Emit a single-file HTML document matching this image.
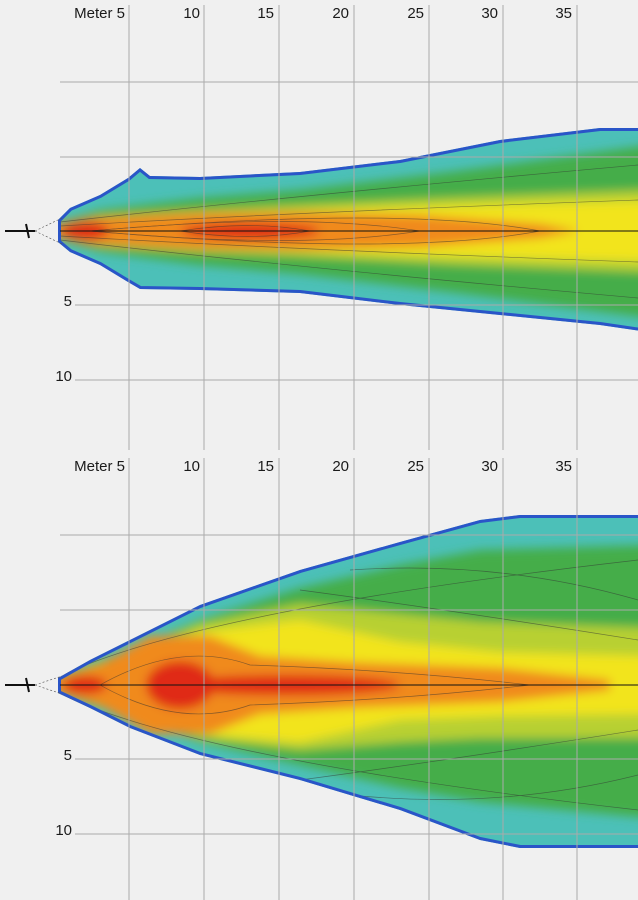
<!DOCTYPE html>
<html><head><meta charset="utf-8"><style>
html,body{margin:0;padding:0;background:#f0f0f0;}
svg{display:block;}
text{font-family:"Liberation Sans",sans-serif;font-size:15px;fill:#1a1a1a;}
</style></head><body>
<svg width="638" height="900" viewBox="0 0 638 900">
<defs>
<filter id="b" x="-20%" y="-20%" width="140%" height="140%"><feGaussianBlur stdDeviation="5"/></filter>
<polygon id="p1" points="58,220 70,208 100,195 128,178 140,168 150,176 200,177 300,172 400,160 500,140 600,128 648,128 648,332 600,325 500,315 400,305 300,293 200,290 140,289 128,282 100,265 70,252 58,242"/>
<polygon id="p2" points="58,678 90,660 130,640 200,605 300,570 400,542 480,520 520,515 648,515 648,848 520,848 480,840 400,810 300,780 200,755 130,728 90,708 58,693"/>
<clipPath id="c1"><use href="#p1"/></clipPath>
<clipPath id="c2"><use href="#p2"/></clipPath>
</defs>
<rect width="638" height="900" fill="#f0f0f0"/>

<!-- top heatmap -->
<g clip-path="url(#c1)">
<rect x="40" y="120" width="610" height="220" fill="#4cc0b8"/>
<g filter="url(#b)">
<polygon points="30,231 100,210 200,198 300,190 450,172 650,145 650,318 450,292 300,274 200,265 100,252" fill="#44ad48"/>
<polygon points="30,231 100,216 200,210 300,205 450,198 650,190 650,272 450,264 300,256 200,252 100,246" fill="#b8d030"/>
<polygon points="30,231 100,220 200,214 300,211 450,206 650,201 650,261 450,256 300,251 200,248 100,242" fill="#f2e41e"/>
<polygon points="30,231 90,218 200,213 300,212 420,215 540,224 580,231 540,238 420,247 300,250 200,249 90,244" fill="#f08a1c"/>
<ellipse cx="85" cy="231" rx="24" ry="9" fill="#e02a14"/>
<ellipse cx="250" cy="231" rx="70" ry="8" fill="#e02a14"/>
</g>
<g fill="none" stroke="#333" stroke-width="0.7" opacity="0.55">
<path d="M60,222 Q300,195 638,165"/><path d="M60,240 Q300,268 638,298"/>
<path d="M60,226 Q300,212 638,200"/><path d="M60,236 Q300,250 638,262"/>
<path d="M180,231 Q250,220 310,231 Q250,242 180,231"/>
<path d="M90,231 Q300,212 420,231 Q300,250 90,231"/>
<path d="M90,231 Q400,205 540,231 Q400,257 90,231"/>
</g>
<use href="#p1" fill="none" stroke="#2a55c8" stroke-width="6"/>
</g>

<!-- bottom heatmap -->
<g clip-path="url(#c2)">
<rect x="40" y="500" width="610" height="360" fill="#4cc0b8"/>
<g filter="url(#b)">
<polygon points="30,685 130,650 200,620 300,588 400,565 480,550 650,545 650,818 480,802 400,788 300,765 200,742 130,718" fill="#44ad48"/>
<polygon points="30,685 130,652 200,624 300,604 400,614 480,622 650,628 650,738 480,738 400,742 300,750 200,738 130,716" fill="#b8d030"/>
<polygon points="30,685 130,656 200,632 300,620 400,642 500,652 650,656 650,714 500,716 400,720 300,742 200,734 130,712" fill="#f2e41e"/>
<polygon points="30,685 100,664 150,636 210,636 260,656 350,662 500,668 610,680 610,690 500,702 350,708 260,714 210,734 150,734 100,706" fill="#f08a1c"/>
<ellipse cx="180" cy="685" rx="34" ry="24" fill="#e02a14"/>
<ellipse cx="85" cy="685" rx="22" ry="9" fill="#e02a14"/>
<ellipse cx="285" cy="685" rx="115" ry="10" fill="#e02a14"/>
</g>
<g fill="none" stroke="#333" stroke-width="0.7" opacity="0.55">
<path d="M60,676 Q200,610 638,560"/><path d="M60,694 Q200,760 638,810"/>
<path d="M300,590 Q450,610 638,640"/><path d="M300,780 Q450,760 638,730"/>
<path d="M100,685 Q180,640 250,665 Q400,670 530,685 Q400,700 250,705 Q180,730 100,685"/>
<path d="M350,570 Q500,560 638,600"/><path d="M350,795 Q500,810 638,775"/>
</g>
<use href="#p2" fill="none" stroke="#2a55c8" stroke-width="6"/>
</g>

<!-- grids -->
<g stroke="#aaa" stroke-width="1">
<line x1="129" y1="5" x2="129" y2="450"/><line x1="204" y1="5" x2="204" y2="450"/>
<line x1="279" y1="5" x2="279" y2="450"/><line x1="354" y1="5" x2="354" y2="450"/>
<line x1="429" y1="5" x2="429" y2="450"/><line x1="503" y1="5" x2="503" y2="450"/>
<line x1="577" y1="5" x2="577" y2="450"/>
<line x1="60" y1="82" x2="638" y2="82"/><line x1="60" y1="157" x2="638" y2="157"/>
<line x1="75" y1="305" x2="638" y2="305"/><line x1="75" y1="380" x2="638" y2="380"/>
<line x1="129" y1="458" x2="129" y2="900"/><line x1="204" y1="458" x2="204" y2="900"/>
<line x1="279" y1="458" x2="279" y2="900"/><line x1="354" y1="458" x2="354" y2="900"/>
<line x1="429" y1="458" x2="429" y2="900"/><line x1="503" y1="458" x2="503" y2="900"/>
<line x1="577" y1="458" x2="577" y2="900"/>
<line x1="60" y1="535" x2="638" y2="535"/><line x1="60" y1="610" x2="638" y2="610"/>
<line x1="75" y1="759" x2="638" y2="759"/><line x1="75" y1="834" x2="638" y2="834"/>
</g>
<g stroke="#111" stroke-width="1">
<line x1="60" y1="231" x2="638" y2="231"/><line x1="60" y1="685" x2="638" y2="685"/>
</g>
<g stroke="#111" stroke-width="2">
<line x1="5" y1="231" x2="35" y2="231"/><line x1="26" y1="224" x2="29" y2="238"/>
<line x1="5" y1="685" x2="35" y2="685"/><line x1="26" y1="678" x2="29" y2="692"/>
</g>
<g stroke="#555" stroke-width="0.6" stroke-dasharray="2,2">
<line x1="35" y1="231" x2="62" y2="218"/><line x1="35" y1="231" x2="62" y2="244"/>
<line x1="35" y1="685" x2="62" y2="676"/><line x1="35" y1="685" x2="62" y2="694"/>
</g>

<g text-anchor="end">
<text x="125" y="18">Meter 5</text><text x="200" y="18">10</text><text x="274" y="18">15</text>
<text x="349" y="18">20</text><text x="424" y="18">25</text><text x="498" y="18">30</text><text x="572" y="18">35</text>
<text x="125" y="471">Meter 5</text><text x="200" y="471">10</text><text x="274" y="471">15</text>
<text x="349" y="471">20</text><text x="424" y="471">25</text><text x="498" y="471">30</text><text x="572" y="471">35</text>
<text x="72" y="306">5</text><text x="72" y="381">10</text>
<text x="72" y="760">5</text><text x="72" y="835">10</text>
</g>
</svg>
</body></html>
